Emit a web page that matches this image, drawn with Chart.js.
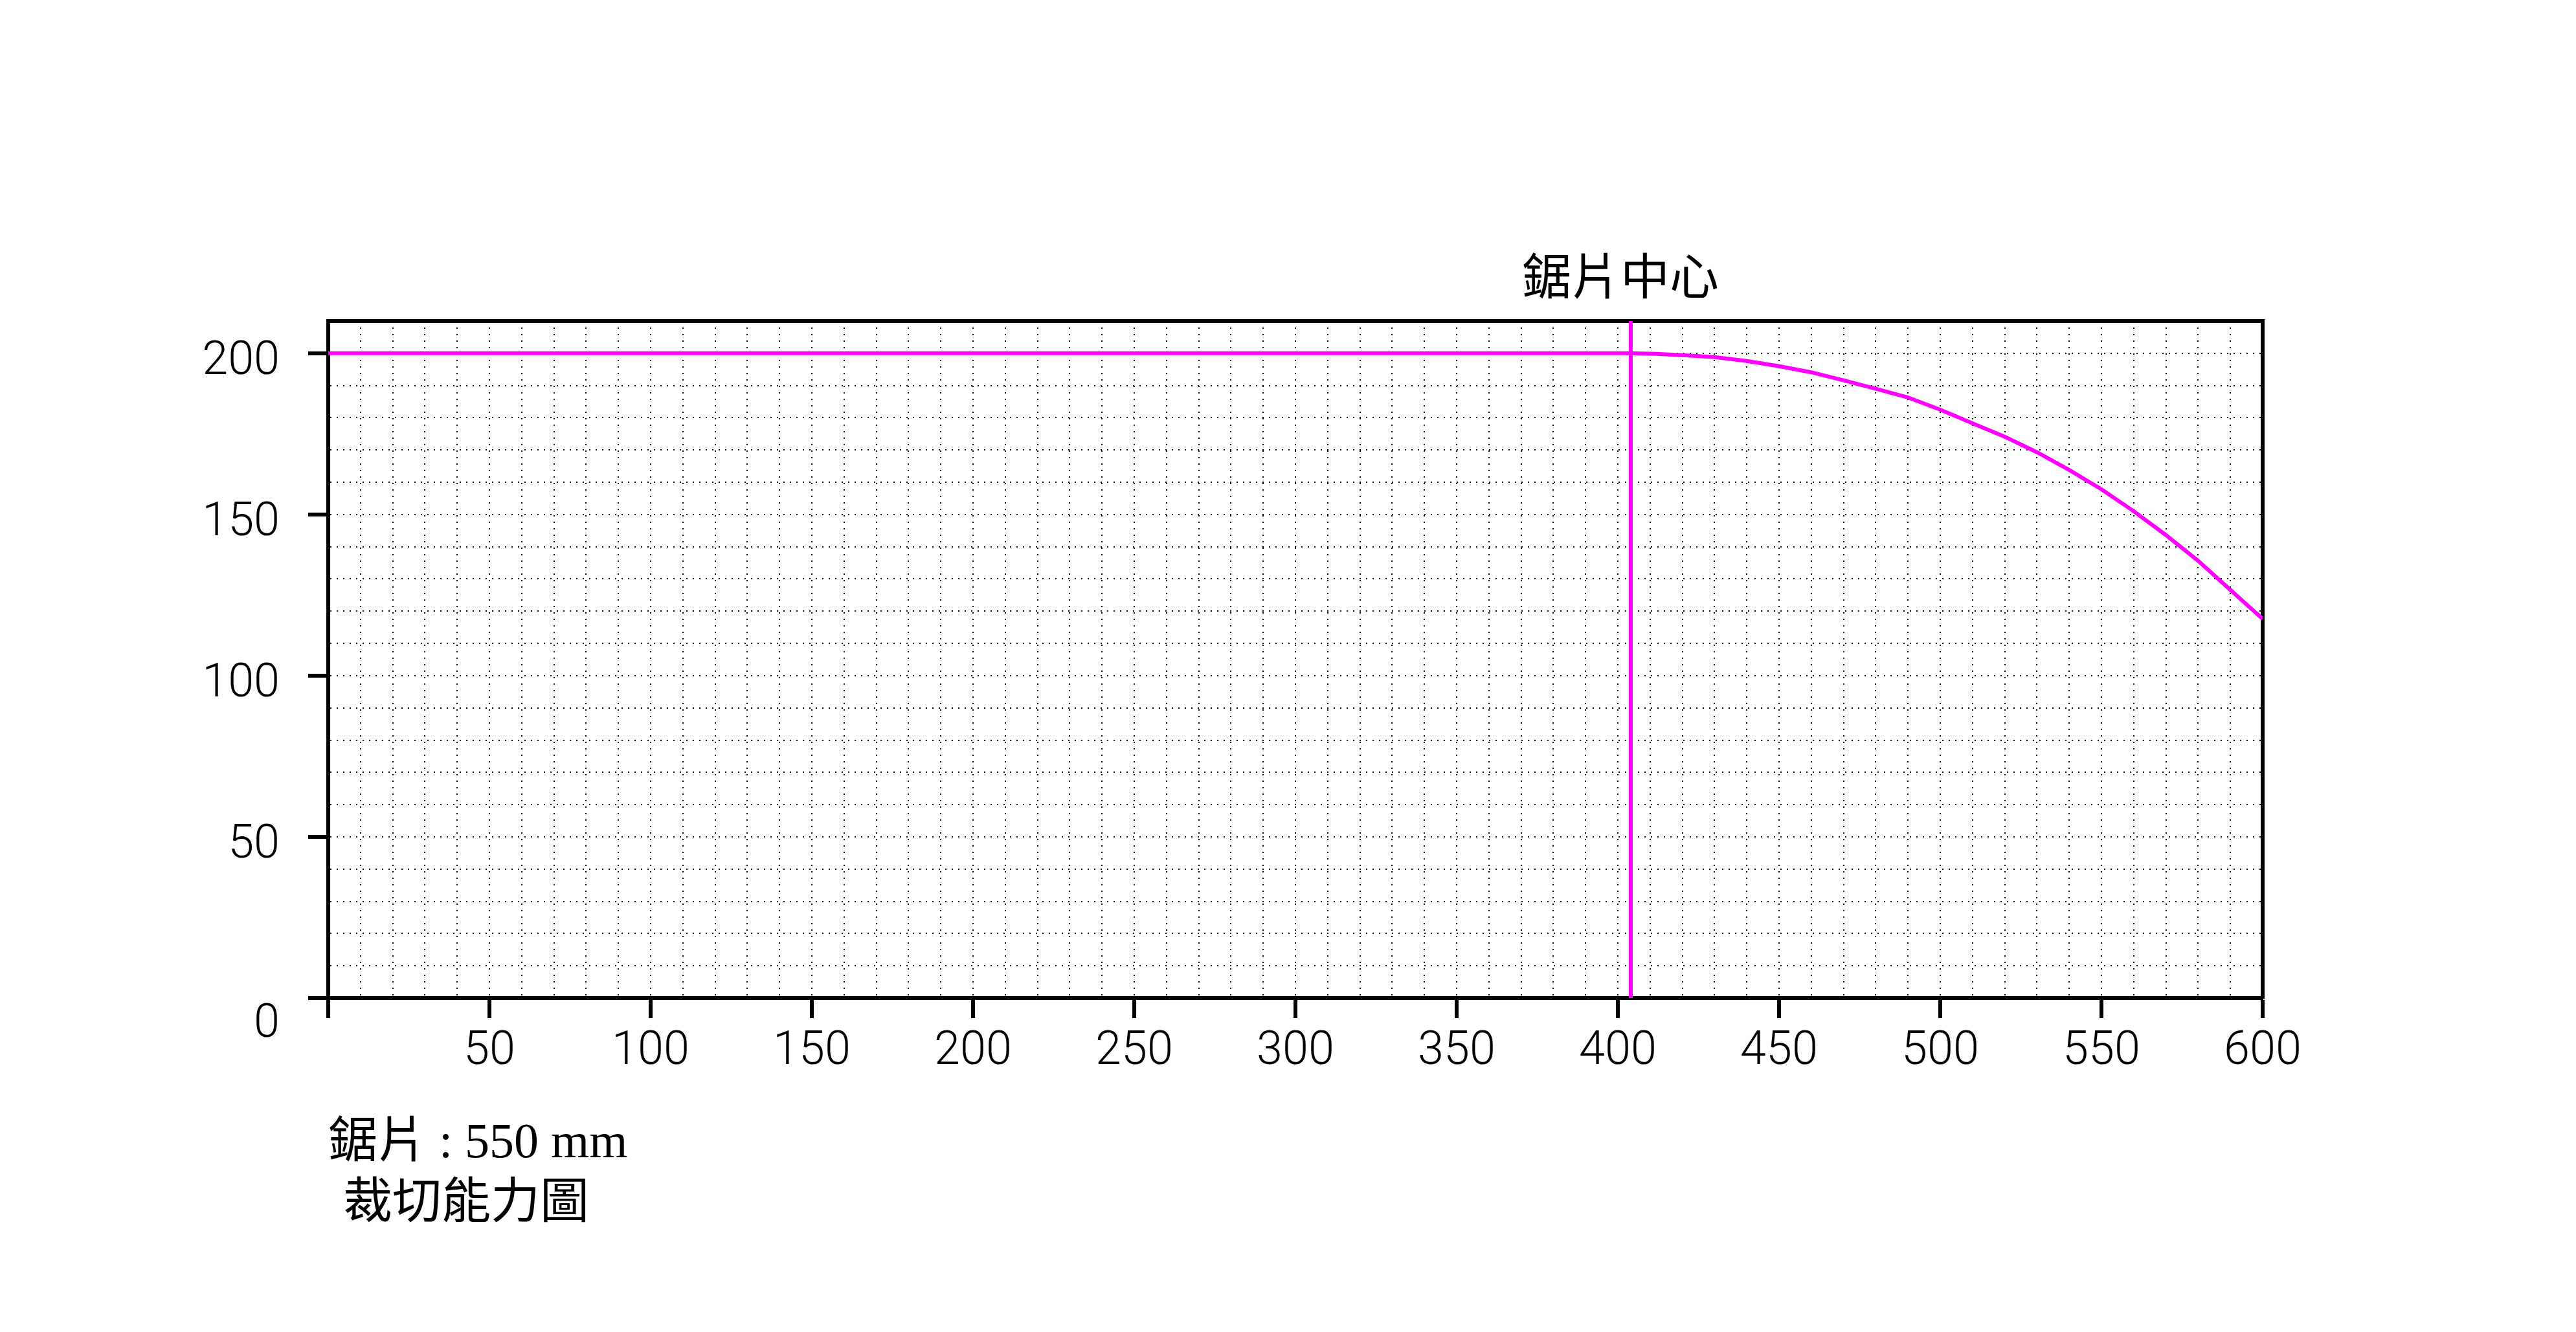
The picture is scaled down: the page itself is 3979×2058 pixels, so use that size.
<!DOCTYPE html>
<html>
<head>
<meta charset="utf-8">
<script src="https://cdn.jsdelivr.net/npm/chart.js@4.4.1/dist/chart.umd.min.js"></script>
<style>
  html, body { margin: 0; padding: 0; background: #ffffff; }
  #c { display: block; }
</style>
</head>
<body>
<canvas id="c" width="3979" height="2058" style="width:3979px;height:2058px"></canvas>
<script>
// ---- data ----
const capX = [0, 404, 412, 420, 430, 440, 450, 460, 470, 480, 490, 500, 510, 520, 530, 540, 550, 560, 570, 580, 590, 600];
const capY = [200, 200, 199.8, 199.4, 198.8, 197.6, 196.0, 194.1, 191.6, 189.0, 186.3, 182.5, 178.3, 174.1, 169.3, 163.8, 157.8, 151.0, 143.6, 135.6, 126.6, 117.6];
const sawCenterX = 404;
const sawCenterY = [0, 210];
const xTickLabels = [50, 100, 150, 200, 250, 300, 350, 400, 450, 500, 550, 600];
const yTickLabels = [0, 50, 100, 150, 200];
const titleText = '鋸片中心';
const noteLines = ['鋸片 : 550 mm', '裁切能力圖'];

const MAGENTA = '#ff00ff';
const tickFont = { family: "Roboto, 'Liberation Sans', sans-serif", size: 72, weight: '300' };

const textPlugin = {
  id: 'texts',
  afterDraw(chart) {
    const ctx = chart.ctx;
    const xs = chart.scales.x;
    const area = chart.chartArea;
    ctx.save();
    ctx.fillStyle = '#000';
    ctx.textBaseline = 'middle';
    ctx.font = "76px 'Noto Sans CJK TC', 'Noto Sans CJK SC', sans-serif";
    ctx.textAlign = 'center';
    ctx.fillText(titleText, xs.getPixelForValue(sawCenterX) - 16, area.top - 70);
    ctx.textAlign = 'left';
    ctx.font = "76px 'Liberation Serif', 'Noto Sans CJK TC', serif";
    ctx.fillText(noteLines[0], area.left, area.bottom + 226);
    ctx.fillText(noteLines[1], area.left + 23, area.bottom + 320);
    ctx.restore();
  }
};

new Chart(document.getElementById('c'), {
  type: 'line',
  data: {
    datasets: [
      {
        data: capX.map((x, i) => ({ x: x, y: capY[i] })),
        borderColor: MAGENTA,
        borderWidth: 6,
        pointRadius: 0,
        tension: 0,
        fill: false
      },
      {
        data: sawCenterY.map(y => ({ x: sawCenterX, y: y })),
        borderColor: MAGENTA,
        borderWidth: 6,
        pointRadius: 0,
        fill: false
      }
    ]
  },
  options: {
    responsive: false,
    devicePixelRatio: 1,
    animation: false,
    events: [],
    layout: { padding: { left: 0, top: 496, right: 484, bottom: 0 } },
    plugins: { legend: { display: false }, tooltip: { enabled: false }, title: { display: false } },
    scales: {
      x: {
        type: 'linear',
        position: 'bottom',
        min: 0, max: 600,
        afterFit(s) { s.height = 2058 - 1542; },
        ticks: {
          stepSize: 10,
          autoSkip: false,
          maxRotation: 0, minRotation: 0,
          padding: 10,
          color: '#000',
          font: tickFont,
          callback: (v) => xTickLabels.includes(Math.round(v)) ? String(Math.round(v)) : ''
        },
        grid: {
          color: '#000',
          lineWidth: 2,
          tickLength: 31,
          tickWidth: 6,
          tickColor: (c) => (c.tick && Math.round(c.tick.value) % 50 === 0) ? '#000' : 'rgba(0,0,0,0)'
        },
        border: { display: true, color: '#000', width: 6, dash: [2, 8] }
      },
      y: {
        type: 'linear',
        position: 'left',
        min: 0, max: 210,
        afterFit(s) { s.width = 507; },
        ticks: {
          stepSize: 10,
          autoSkip: false,
          padding: 44,
          color: '#000',
          font: Object.assign({}, tickFont, { lineHeight: 0.39 }),
          callback: (v) => {
            const r = Math.round(v);
            if (!yTickLabels.includes(r)) return '';
            return r === 0 ? ['', '', '', '0'] : ['', String(r)];
          }
        },
        grid: {
          color: '#000',
          lineWidth: 2,
          tickLength: 31,
          tickWidth: 6,
          tickColor: (c) => (c.tick && Math.round(c.tick.value) % 50 === 0) ? '#000' : 'rgba(0,0,0,0)'
        },
        border: { display: true, color: '#000', width: 6, dash: [2, 8] }
      },
      xTop: {
        type: 'linear',
        position: 'top',
        min: 0, max: 600,
        afterFit(s) { s.height = 0; },
        ticks: { display: false },
        grid: { display: false, drawTicks: false },
        border: { display: true, color: '#000', width: 6 }
      },
      yRight: {
        type: 'linear',
        position: 'right',
        min: 0, max: 210,
        afterFit(s) { s.width = 0; },
        ticks: { display: false },
        grid: { display: false, drawTicks: false },
        border: { display: true, color: '#000', width: 6 }
      }
    }
  },
  plugins: [textPlugin]
});
</script>
</body>
</html>
